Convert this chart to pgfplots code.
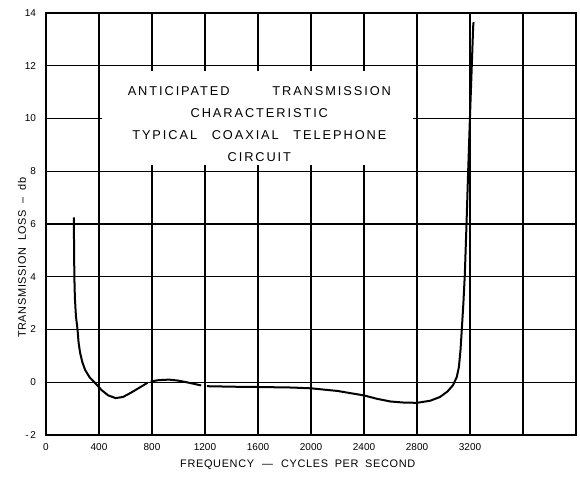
\documentclass[border=0pt]{standalone}
\usepackage{fontspec}
\setmainfont{Liberation Sans}
\newfontfamily\boxfont[LetterSpace=15]{Liberation Sans}
\newfontfamily\labfont[LetterSpace=6]{Liberation Sans}
\usepackage{pgfplots}
\pgfplotsset{compat=1.18}
\begin{document}
\begin{tikzpicture}
\begin{axis}[
  scale only axis, width=397.5pt, height=316.5pt,
  xmin=0, xmax=4000, ymin=-2, ymax=14,
  xtick={0,400,...,3600},
  xticklabels={0,400,800,1200,1600,2000,2400,2800,3200,{}},
  ytick={-2,0,...,14},
  yticklabels={-\,2,0,2,4,6,8,10,12,14},
  grid=major,
  major grid style={black, line width=1.1pt},
  axis line style={black, line width=1.1pt},
  major tick length=0pt,
  tick label style={font=\fontsize{7.5}{9}\selectfont},
  /pgf/number format/assume math mode=true,
  xticklabel style={yshift=-3pt},
  yticklabel style={xshift=-4pt},
  xlabel={FREQUENCY\hspace{6pt}\char"2014\hspace{6pt}CYCLES\hspace{5pt}PER\hspace{5pt}SECOND},
  ylabel={TRANSMISSION\hspace{5pt}LOSS\hspace{5pt}\char"2013\hspace{5pt}db},
  label style={font=\labfont\fontsize{8.2}{10}\selectfont},
  xlabel style={at={(axis description cs:0.475,-0.0711)}, anchor=center},
  ylabel style={at={(axis description cs:-0.0453,0.42)}, anchor=center},
]
\fill[white] (axis cs:420,8.25) rectangle (axis cs:2770,11.8);
\node[align=center, font=\boxfont\fontsize{9.6}{16.5}\selectfont] at (axis cs:1610,9.8)
  {ANTICIPATED\hspace{32pt}TRANSMISSION\\CHARACTERISTIC\\TYPICAL\hspace{11pt}COAXIAL\hspace{11pt}TELEPHONE\\CIRCUIT};
\addplot[black, line width=1.5pt] coordinates {
(210,6.25)(212,5)(214,4)(218,3.2)(226,2.5)(238,2)(246,1.5)(258,1.1)(275,0.75)(296,0.46)
(330,0.18)(373,-0.04)(420,-0.3)(470,-0.5)(525,-0.6)(580,-0.56)(640,-0.4)(700,-0.22)(740,-0.1)(766,-0.02)
};
\addplot[black, line width=1.5pt] coordinates {
(790,0.03)(850,0.08)(928,0.1)(1000,0.06)(1080,-0.02)(1171,-0.12)
};
\addplot[black, line width=1.5pt] coordinates {
(1215,-0.15)(1422,-0.17)(1600,-0.18)(1856,-0.2)(2000,-0.23)(2200,-0.33)(2400,-0.5)(2500,-0.63)
(2600,-0.73)(2700,-0.77)(2800,-0.78)(2900,-0.7)(2973,-0.56)(3030,-0.35)(3072,-0.11)(3100,0.2)
(3116,0.57)(3128,1.2)(3136,1.83)(3150,3)(3161,4.1)(3173,5.9)(3186,8)(3199,9.96)(3212,11.8)(3224,13.5)(3227,13.65)
};
\end{axis}
\pgfresetboundingbox
\path ([shift={(-34.5pt,-32.25pt)}]current axis.south west) rectangle ([shift={(3pt,9.75pt)}]current axis.north east);
\end{tikzpicture}
\end{document}
